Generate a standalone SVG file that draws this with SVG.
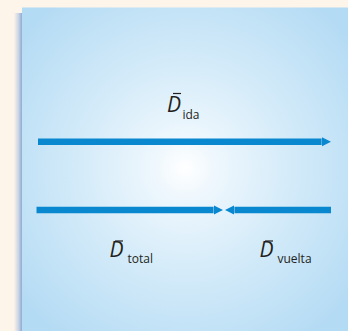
<svg xmlns="http://www.w3.org/2000/svg" width="348" height="331" viewBox="0 0 348 331">
<defs>
<radialGradient id="bg" cx="185" cy="168" r="210" gradientUnits="userSpaceOnUse">
<stop offset="0" stop-color="#ffffff"/>
<stop offset="0.15" stop-color="#eef7fd"/>
<stop offset="0.5" stop-color="#d4ebf9"/>
<stop offset="1" stop-color="#b4dbf4"/>
</radialGradient>
<linearGradient id="sh" x1="0" y1="0" x2="1" y2="0">
<stop offset="0" stop-color="#fdf3e8"/>
<stop offset="0.5" stop-color="#c9d4e4"/>
<stop offset="1" stop-color="#7f9fcc"/>
</linearGradient>
<marker id="ah" viewBox="0 0 10 10" refX="0" refY="5" markerWidth="1.45" markerHeight="1.6" orient="auto" markerUnits="strokeWidth">
<path d="M0,0 L10,5 L0,10 Z" fill="#0a88cf"/>
</marker>
</defs>
<style>
.vec{stroke:#0a88cf;stroke-width:6.5;fill:none}
.D{font-family:"Open Sans","Noto Sans",sans-serif;font-style:italic;font-size:21px;fill:#231f20}
.sub{font-family:"Open Sans","Noto Sans",sans-serif;font-size:12px;fill:#231f20}
.bar{stroke:#231f20;stroke-width:1.2}
</style>
<rect width="348" height="331" fill="#fef5ea"/>
<rect x="14" y="13" width="9" height="318" fill="url(#sh)"/>
<rect x="22" y="7.5" width="326" height="323.5" fill="url(#bg)"/>
<g id="connectors">
<line class="vec" x1="38" y1="141.7" x2="321.6" y2="141.7" marker-end="url(#ah)"/>
<line class="vec" x1="36.5" y1="210" x2="213.6" y2="210" marker-end="url(#ah)"/>
<line class="vec" x1="331" y1="210" x2="234.4" y2="210" marker-end="url(#ah)"/>
</g>
<g id="ida">
<line class="bar" x1="173" y1="93.5" x2="181" y2="93.5"/>
<text class="D" x="167" y="111.5">D</text>
<text class="sub" x="182.5" y="118.5">ida</text>
</g>
<g id="total">
<line class="bar" x1="115" y1="241" x2="123" y2="241"/>
<text class="D" x="109.5" y="256.5">D</text>
<text class="sub" x="127.5" y="263">total</text>
</g>
<g id="vuelta">
<line class="bar" x1="265" y1="241" x2="273" y2="241"/>
<text class="D" x="259.5" y="256.5">D</text>
<text class="sub" x="277.5" y="263">vuelta</text>
</g>
</svg>
